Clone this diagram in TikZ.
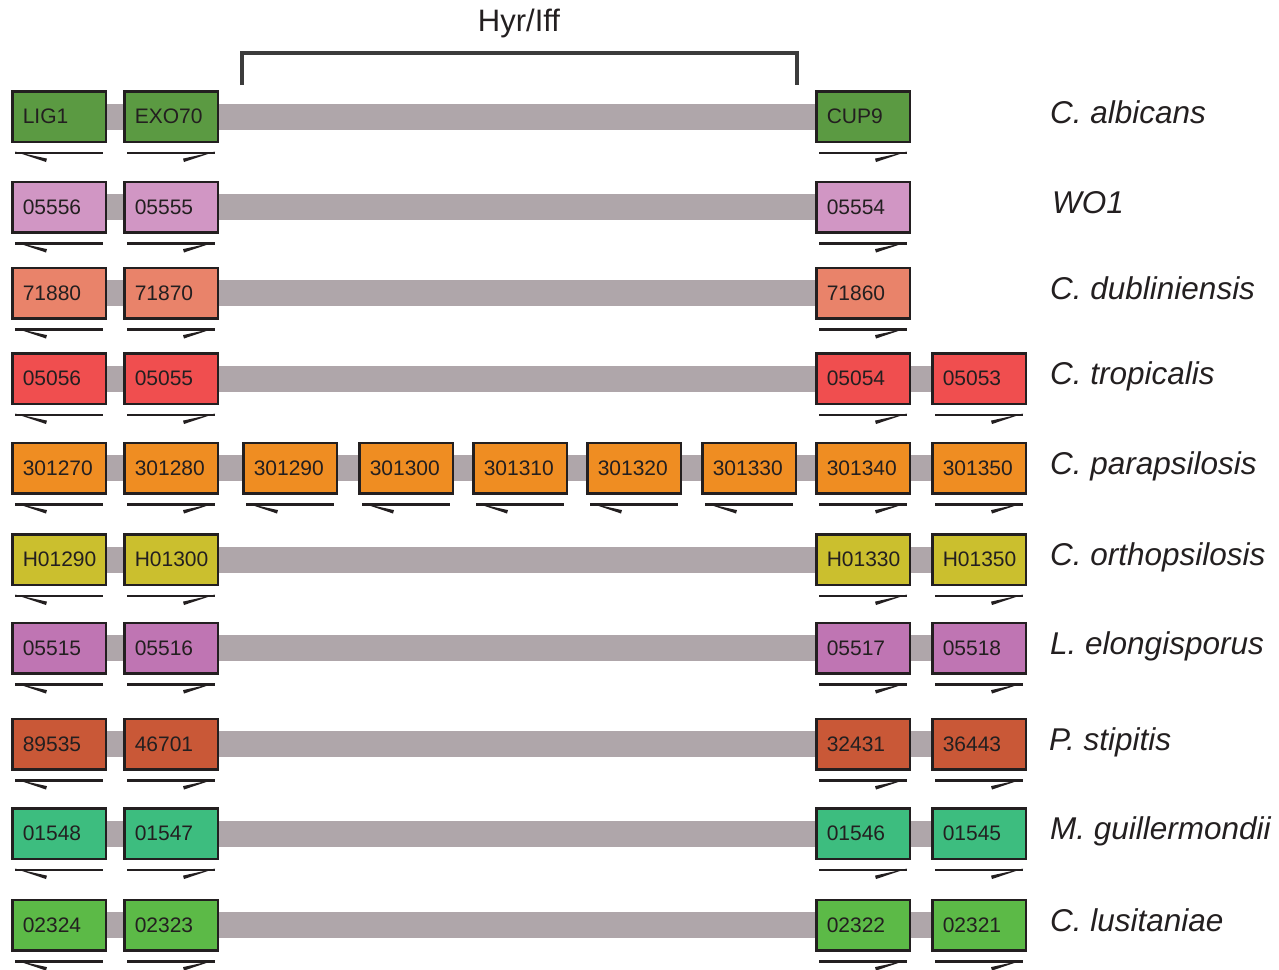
\documentclass[tikz,border=0pt]{standalone}
\usepackage{fontspec}
\setmainfont{Liberation Sans}
\definecolor{boxline}{HTML}{231F20}
\definecolor{txt}{HTML}{231F20}
\definecolor{bargray}{HTML}{AFA6AA}
\definecolor{brk}{HTML}{3C3C3C}
\definecolor{cAlb}{HTML}{5B9A42}
\definecolor{cWO}{HTML}{D196C4}
\definecolor{cDub}{HTML}{E9836A}
\definecolor{cTro}{HTML}{F04E4F}
\definecolor{cPar}{HTML}{EF8D22}
\definecolor{cOrt}{HTML}{CBBF2E}
\definecolor{cElo}{HTML}{BF75B3}
\definecolor{cSti}{HTML}{C95837}
\definecolor{cGui}{HTML}{3DBD7F}
\definecolor{cLus}{HTML}{5CBA47}
\tikzset{
  gbox/.style={draw=boxline, line width=2.5pt, minimum width=93.5pt, minimum height=50.5pt,
    inner xsep=10.5pt, inner ysep=0pt, text width=72.5pt, align=left,
    font=\fontsize{21}{24}\selectfont, text=txt},
  gbar/.style={draw=bargray, line width=26pt},
  garrow/.style={draw=boxline, line width=2.8pt},
  barb/.style={fill=boxline},
  species/.style={anchor=base west, inner sep=0pt, font=\fontsize{31.5}{35}\selectfont\itshape, text=txt},
  bracketline/.style={draw=brk, line width=4pt},
}
\newcommand\gL[5]{%
  \node[gbox, fill=#4] (#1) at ({#2+48}, #3) {#5};
  \draw[garrow] ([xshift=4pt,yshift=-10pt]#1.south west) coordinate (#1-t) -- ([xshift=-4pt,yshift=-10pt]#1.south east);
  \fill[barb] (#1-t) ++(0,-1.4) -- ++(32,7) -- ++(-1,3.4) -- cycle;
}
\newcommand\gR[5]{%
  \node[gbox, fill=#4] (#1) at ({#2+48}, #3) {#5};
  \draw[garrow] ([xshift=4pt,yshift=-10pt]#1.south west) -- ([xshift=-4pt,yshift=-10pt]#1.south east) coordinate (#1-t);
  \fill[barb] (#1-t) ++(0,-1.4) -- ++(-32,7) -- ++(1,3.4) -- cycle;
}
\begin{document}
\begin{tikzpicture}[x=1pt, y=-1pt]
\useasboundingbox (0,0) rectangle (1279,969);
% bracket
\coordinate (bl) at (242,85);
\coordinate (br) at (797,85);
\draw[bracketline] (bl) -- (242,53) -- (797,53) -- (br);
\node[font=\fontsize{31}{34}\selectfont, text=txt, inner sep=0pt] (hyr) at (519,23) {Hyr/Iff};

% Row 1
\gL{a1}{11}{116.5}{cAlb}{LIG1}
\gR{a2}{123}{116.5}{cAlb}{EXO70}
\gR{a8}{815}{116.5}{cAlb}{CUP9}
\draw[gbar] (a1.east) -- (a2.west);
\draw[gbar] (a2.east) -- (a8.west);
\node[species] (s1) at (1050,123) {C. albicans};

% Row 2
\gL{b1}{11}{207}{cWO}{05556}
\gR{b2}{123}{207}{cWO}{05555}
\gR{b8}{815}{207}{cWO}{05554}
\draw[gbar] (b1.east) -- (b2.west);
\draw[gbar] (b2.east) -- (b8.west);
\node[species] (s2) at (1052,213) {WO1};

% Row 3
\gL{c1}{11}{293}{cDub}{71880}
\gR{c2}{123}{293}{cDub}{71870}
\gR{c8}{815}{293}{cDub}{71860}
\draw[gbar] (c1.east) -- (c2.west);
\draw[gbar] (c2.east) -- (c8.west);
\node[species] (s3) at (1050,299) {C. dubliniensis};

% Row 4
\gL{d1}{11}{378.5}{cTro}{05056}
\gR{d2}{123}{378.5}{cTro}{05055}
\gR{d8}{815}{378.5}{cTro}{05054}
\gR{d9}{931}{378.5}{cTro}{05053}
\draw[gbar] (d1.east) -- (d2.west);
\draw[gbar] (d2.east) -- (d8.west);
\draw[gbar] (d8.east) -- (d9.west);
\node[species] (s4) at (1050,384.5) {C. tropicalis};

% Row 5
\gL{e1}{11}{468}{cPar}{301270}
\gR{e2}{123}{468}{cPar}{301280}
\gL{e3}{242}{468}{cPar}{301290}
\gL{e4}{358}{468}{cPar}{301300}
\gL{e5}{472}{468}{cPar}{301310}
\gL{e6}{586}{468}{cPar}{301320}
\gL{e7}{701}{468}{cPar}{301330}
\gR{e8}{815}{468}{cPar}{301340}
\gR{e9}{931}{468}{cPar}{301350}
\draw[gbar] (e1.east) -- (e2.west);
\draw[gbar] (e2.east) -- (e3.west);
\draw[gbar] (e3.east) -- (e4.west);
\draw[gbar] (e4.east) -- (e5.west);
\draw[gbar] (e5.east) -- (e6.west);
\draw[gbar] (e6.east) -- (e7.west);
\draw[gbar] (e7.east) -- (e8.west);
\draw[gbar] (e8.east) -- (e9.west);
\node[species] (s5) at (1050,474) {C. parapsilosis};

% Row 6
\gL{f1}{11}{559.5}{cOrt}{H01290}
\gR{f2}{123}{559.5}{cOrt}{H01300}
\gR{f8}{815}{559.5}{cOrt}{H01330}
\gR{f9}{931}{559.5}{cOrt}{H01350}
\draw[gbar] (f1.east) -- (f2.west);
\draw[gbar] (f2.east) -- (f8.west);
\draw[gbar] (f8.east) -- (f9.west);
\node[species] (s6) at (1050,565.5) {C. orthopsilosis};

% Row 7
\gL{g1}{11}{648}{cElo}{05515}
\gR{g2}{123}{648}{cElo}{05516}
\gR{g8}{815}{648}{cElo}{05517}
\gR{g9}{931}{648}{cElo}{05518}
\draw[gbar] (g1.east) -- (g2.west);
\draw[gbar] (g2.east) -- (g8.west);
\draw[gbar] (g8.east) -- (g9.west);
\node[species] (s7) at (1050,654) {L. elongisporus};

% Row 8
\gL{h1}{11}{744}{cSti}{89535}
\gR{h2}{123}{744}{cSti}{46701}
\gR{h8}{815}{744}{cSti}{32431}
\gR{h9}{931}{744}{cSti}{36443}
\draw[gbar] (h1.east) -- (h2.west);
\draw[gbar] (h2.east) -- (h8.west);
\draw[gbar] (h8.east) -- (h9.west);
\node[species] (s8) at (1049,750) {P. stipitis};

% Row 9
\gL{i1}{11}{833.5}{cGui}{01548}
\gR{i2}{123}{833.5}{cGui}{01547}
\gR{i8}{815}{833.5}{cGui}{01546}
\gR{i9}{931}{833.5}{cGui}{01545}
\draw[gbar] (i1.east) -- (i2.west);
\draw[gbar] (i2.east) -- (i8.west);
\draw[gbar] (i8.east) -- (i9.west);
\node[species] (s9) at (1050,839) {M. guillermondii};

% Row 10
\gL{j1}{11}{925}{cLus}{02324}
\gR{j2}{123}{925}{cLus}{02323}
\gR{j8}{815}{925}{cLus}{02322}
\gR{j9}{931}{925}{cLus}{02321}
\draw[gbar] (j1.east) -- (j2.west);
\draw[gbar] (j2.east) -- (j8.west);
\draw[gbar] (j8.east) -- (j9.west);
\node[species] (s10) at (1050,931) {C. lusitaniae};
\end{tikzpicture}
\end{document}
